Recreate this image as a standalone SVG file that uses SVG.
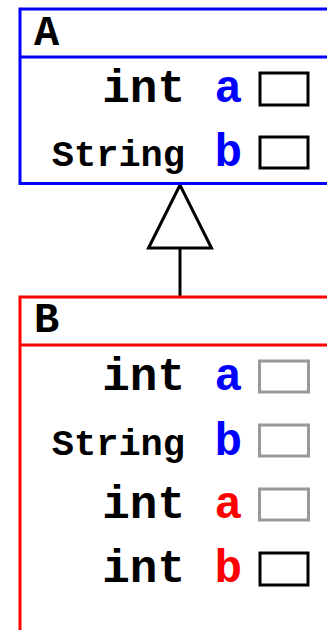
<svg xmlns="http://www.w3.org/2000/svg" width="327" height="630" viewBox="0 0 327 630">
  <style>
    text { font-family: "Liberation Mono", "Courier New", monospace; font-weight: bold; }
    .title { font-size: 42px; fill: #000; }
    .type { font-size: 46px; fill: #000; text-anchor: end; }
    .type-s { font-size: 37px; fill: #000; text-anchor: end; }
    .name { font-size: 46px; text-anchor: end; }
    .blue { fill: #0000ff; }
    .red { fill: #ff0000; }
    .frameA { fill: none; stroke: #0000ff; stroke-width: 3; }
    .frameB { fill: none; stroke: #ff0000; stroke-width: 3; }
    .slot { fill: #fff; stroke: #000; stroke-width: 3; }
    .slot-old { fill: #fff; stroke: #999; stroke-width: 3; }
    .edge { fill: none; stroke: #000; stroke-width: 3; }
    .head { fill: #fff; stroke: #000; stroke-width: 3; }
  </style>

  <g id="connectors">
    <line class="edge" x1="180" y1="249" x2="180" y2="297"/>
    <polygon class="head" points="180,185 148.5,248 211.5,248"/>
  </g>

  <g id="A">
    <rect class="frameA" x="20" y="9" width="320" height="174.5"/>
    <line class="frameA" x1="20" y1="57" x2="340" y2="57"/>
    <text class="title" x="34" y="45">A</text>
    <text class="type" x="185" y="102">int</text>
    <text class="name blue" x="242" y="102">a</text>
    <rect class="slot" x="260" y="73" width="48" height="32"/>
    <text class="type-s" x="185" y="166">String</text>
    <text class="name blue" x="242" y="166">b</text>
    <rect class="slot" x="260" y="137" width="48" height="31"/>
  </g>

  <g id="B">
    <path class="frameB" d="M20,640 V297 H340 M20,345 H340"/>
    <text class="title" x="34" y="332">B</text>
    <text class="type" x="185" y="390">int</text>
    <text class="name blue" x="242" y="390">a</text>
    <rect class="slot-old" x="259.5" y="361" width="49" height="31"/>
    <text class="type-s" x="185" y="455">String</text>
    <text class="name blue" x="242" y="455">b</text>
    <rect class="slot-old" x="259.5" y="425" width="49" height="31"/>
    <text class="type" x="185" y="518">int</text>
    <text class="name red" x="242" y="518">a</text>
    <rect class="slot-old" x="259.5" y="489" width="49" height="31"/>
    <text class="type" x="185" y="582">int</text>
    <text class="name red" x="242" y="582">b</text>
    <rect class="slot" x="260" y="553" width="48" height="32"/>
  </g>
</svg>
